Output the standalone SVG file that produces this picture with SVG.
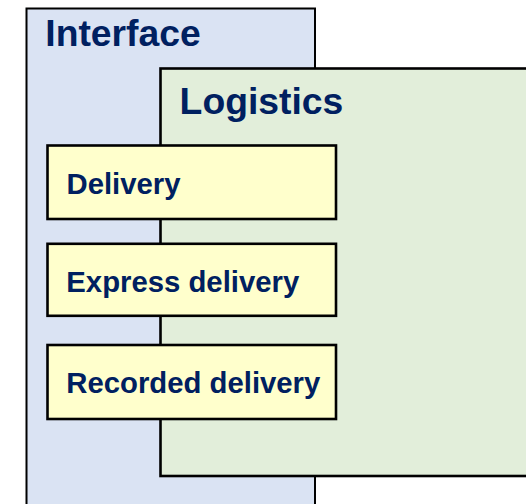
<svg xmlns="http://www.w3.org/2000/svg" width="526" height="504" viewBox="0 0 526 504">
  <style>
    .frame { stroke: #000; }
    .title { font-family: "Liberation Sans", Arial, sans-serif; font-weight: bold; font-size: 37.3px; fill: #002060; }
    .item { fill: #ffffcc; stroke: #000; stroke-width: 2.6; }
    .label { font-family: "Liberation Sans", Arial, sans-serif; font-weight: bold; font-size: 29.3px; fill: #002060; }
  </style>
  <rect width="526" height="504" fill="#ffffff"/>
  <g id="interface">
    <rect class="frame" x="26.5" y="8.5" width="288.5" height="510" fill="#dae3f3" stroke-width="2"/>
    <text class="title" x="45.3" y="46">Interface</text>
  </g>
  <g id="logistics">
    <rect class="frame" x="160.5" y="68.5" width="380" height="407.5" fill="#e2eeda" stroke-width="2.6"/>
    <text class="title" x="179.6" y="114.3">Logistics</text>
  </g>
  <g id="delivery">
    <rect class="item" x="47.5" y="145.5" width="288.5" height="73.5"/>
    <text class="label" x="66.5" y="194">Delivery</text>
  </g>
  <g id="express-delivery">
    <rect class="item" x="47.5" y="243.8" width="288.5" height="72"/>
    <text class="label" x="66.3" y="291.7">Express delivery</text>
  </g>
  <g id="recorded-delivery">
    <rect class="item" x="47.5" y="345" width="288.5" height="74"/>
    <text class="label" x="66.3" y="392.7">Recorded delivery</text>
  </g>
  <g id="connectors"></g>
</svg>
